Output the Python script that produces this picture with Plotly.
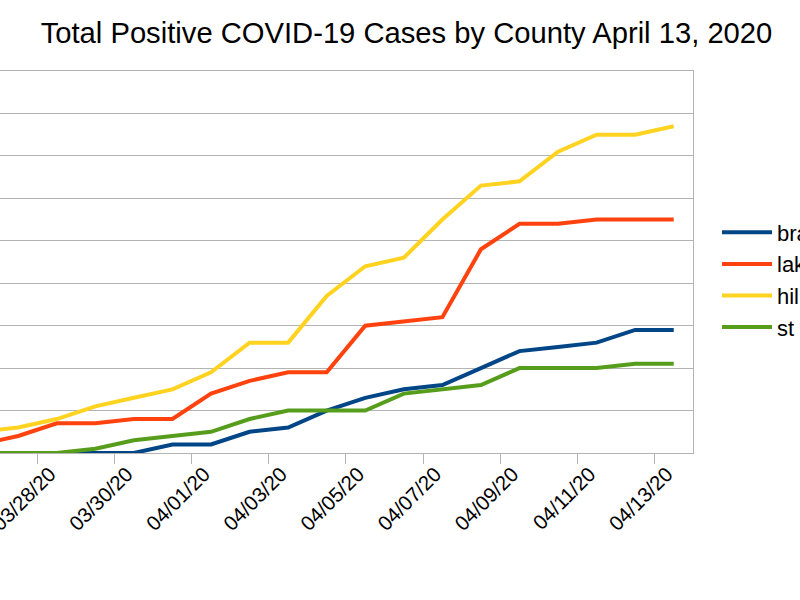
import plotly.graph_objects as go

dates = ["03/26/20", "03/27/20", "03/28/20", "03/29/20", "03/30/20", "03/31/20",
         "04/01/20", "04/02/20", "04/03/20", "04/04/20", "04/05/20", "04/06/20",
         "04/07/20", "04/08/20", "04/09/20", "04/10/20", "04/11/20", "04/12/20",
         "04/13/20"]

bra = [0, 0, 0, 0, 0, 2, 2, 5, 6, 10, 13, 15, 16, 20, 24, 25, 26, 29, 29]
lak = [2, 4, 7, 7, 8, 8, 14, 17, 19, 19, 30, 31, 32, 48, 54, 54, 55, 55, 55]
hil = [5, 6, 8, 11, 13, 15, 19, 26, 26, 37, 44, 46, 55, 63, 64, 71, 75, 75, 77]
st = [0, 0, 0, 1, 3, 4, 5, 8, 10, 10, 10, 14, 15, 16, 20, 20, 20, 21, 21]

series_names = ["bra", "lak", "hil", "st"]
series_values = [bra, lak, hil, st]
colors = ["#004586", "#ff420e", "#ffd320", "#579d1c"]

title_text = "Total Positive COVID-19 Cases by County April 13, 2020"

FONT = "Liberation Sans, Arial, sans-serif"
GRID = "#b3b3b3"

fig = go.Figure()
for name, vals, col in zip(series_names, series_values, colors):
    fig.add_trace(go.Scatter(x=dates, y=vals, mode="lines", name=name,
                             line=dict(color=col, width=4)))

W, H = 800, 600
plot_left, plot_right = 0, 693.3
plot_top, plot_bottom = 70.7, 452.7

n = len(dates)
px_per_cat = 38.575
right_edge = (n - 1) + 0.5
left_edge = right_edge - (plot_right - plot_left) / px_per_cat

fig.update_layout(
    width=W, height=H,
    margin=dict(l=plot_left, r=W - plot_right, t=plot_top, b=H - plot_bottom, autoexpand=False),
    paper_bgcolor="white", plot_bgcolor="white",
    font=dict(family=FONT, color="#000000"),
    title=dict(text=title_text, x=406.5 / W, xref="container", xanchor="center",
               y=1 - 33 / H, yref="container", yanchor="middle",
               font=dict(size=29.2, family=FONT, color="#000000")),
    showlegend=True,
    legend=dict(xref="container", x=717 / W, xanchor="left",
                yref="container", y=1 - 280 / H, yanchor="middle",
                font=dict(size=22, family=FONT, color="#000000"),
                itemwidth=50, bgcolor="rgba(0,0,0,0)", borderwidth=0,
                tracegroupgap=0),
)

fig.update_xaxes(
    type="category", range=[left_edge, right_edge],
    tickmode="linear", tick0=2, dtick=2, tickson="boundaries",
    ticks="outside", ticklen=10, tickcolor=GRID, tickwidth=1,
    tickangle=-45, ticklabelshift=-7,
    tickfont=dict(size=20.5, family=FONT, color="#000000"),
    showgrid=False, showline=True, linecolor=GRID, linewidth=1, mirror=True,
    zeroline=False, automargin=False,
)
fig.update_yaxes(
    range=[0, 90], dtick=10, showticklabels=False, ticks="",
    showgrid=True, gridcolor=GRID, gridwidth=1,
    showline=True, linecolor=GRID, linewidth=1, mirror=True,
    zeroline=False, automargin=False,
)

fig.write_html("out.html")
